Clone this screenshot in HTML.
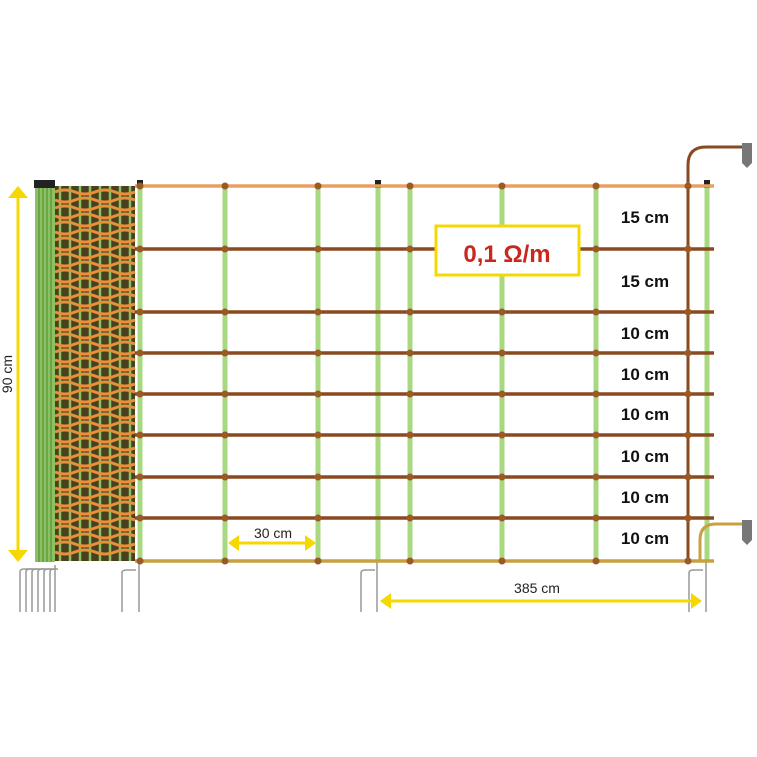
<!DOCTYPE html><html><head><style>body{margin:0;background:#fff}svg{display:block}</style></head><body>
<svg width="757" height="757" viewBox="0 0 757 757" xmlns="http://www.w3.org/2000/svg" font-family="Liberation Sans, sans-serif">
<rect width="757" height="757" fill="#fff"/>
<defs>
<g id="kn"><circle cx="140" cy="0" r="3.5"/><circle cx="225" cy="0" r="3.5"/><circle cx="318" cy="0" r="3.5"/><circle cx="410" cy="0" r="3.5"/><circle cx="502" cy="0" r="3.5"/><circle cx="596" cy="0" r="3.5"/><circle cx="688" cy="0" r="3.5"/></g>
</defs>
<!-- roll -->
<rect x="55" y="186" width="80" height="375" fill="#4a4020"/>
<g stroke="#8cc060" stroke-width="2.5">
<line x1="60" y1="186" x2="60" y2="561"/><line x1="70" y1="186" x2="70" y2="561"/><line x1="80" y1="186" x2="80" y2="561"/><line x1="90" y1="186" x2="90" y2="561"/><line x1="100" y1="186" x2="100" y2="561"/><line x1="110" y1="186" x2="110" y2="561"/><line x1="120" y1="186" x2="120" y2="561"/><line x1="130" y1="186" x2="130" y2="561"/>
</g>
<g stroke="#e8903a" stroke-width="3" fill="none">
<path d="M55 192 q10 -4 20 0 t20 0 t20 0 t20 0 M55 200 q10 4 20 0 t20 0 t20 0 t20 0 M55 208 q10 -4 20 0 t20 0 t20 0 t20 0 M55 216 q10 4 20 0 t20 0 t20 0 t20 0 M55 224 q10 -4 20 0 t20 0 t20 0 t20 0 M55 232 q10 4 20 0 t20 0 t20 0 t20 0 M55 240 q10 -4 20 0 t20 0 t20 0 t20 0 M55 248 q10 4 20 0 t20 0 t20 0 t20 0 M55 256 q10 -4 20 0 t20 0 t20 0 t20 0 M55 264 q10 4 20 0 t20 0 t20 0 t20 0 M55 272 q10 -4 20 0 t20 0 t20 0 t20 0 M55 280 q10 4 20 0 t20 0 t20 0 t20 0 M55 288 q10 -4 20 0 t20 0 t20 0 t20 0 M55 296 q10 4 20 0 t20 0 t20 0 t20 0 M55 304 q10 -4 20 0 t20 0 t20 0 t20 0 M55 312 q10 4 20 0 t20 0 t20 0 t20 0 M55 320 q10 -4 20 0 t20 0 t20 0 t20 0 M55 328 q10 4 20 0 t20 0 t20 0 t20 0 M55 336 q10 -4 20 0 t20 0 t20 0 t20 0 M55 344 q10 4 20 0 t20 0 t20 0 t20 0 M55 352 q10 -4 20 0 t20 0 t20 0 t20 0 M55 360 q10 4 20 0 t20 0 t20 0 t20 0 M55 368 q10 -4 20 0 t20 0 t20 0 t20 0 M55 376 q10 4 20 0 t20 0 t20 0 t20 0 M55 384 q10 -4 20 0 t20 0 t20 0 t20 0 M55 392 q10 4 20 0 t20 0 t20 0 t20 0 M55 400 q10 -4 20 0 t20 0 t20 0 t20 0 M55 408 q10 4 20 0 t20 0 t20 0 t20 0 M55 416 q10 -4 20 0 t20 0 t20 0 t20 0 M55 424 q10 4 20 0 t20 0 t20 0 t20 0 M55 432 q10 -4 20 0 t20 0 t20 0 t20 0 M55 440 q10 4 20 0 t20 0 t20 0 t20 0 M55 448 q10 -4 20 0 t20 0 t20 0 t20 0 M55 456 q10 4 20 0 t20 0 t20 0 t20 0 M55 464 q10 -4 20 0 t20 0 t20 0 t20 0 M55 472 q10 4 20 0 t20 0 t20 0 t20 0 M55 480 q10 -4 20 0 t20 0 t20 0 t20 0 M55 488 q10 4 20 0 t20 0 t20 0 t20 0 M55 496 q10 -4 20 0 t20 0 t20 0 t20 0 M55 504 q10 4 20 0 t20 0 t20 0 t20 0 M55 512 q10 -4 20 0 t20 0 t20 0 t20 0 M55 520 q10 4 20 0 t20 0 t20 0 t20 0 M55 528 q10 -4 20 0 t20 0 t20 0 t20 0 M55 536 q10 4 20 0 t20 0 t20 0 t20 0 M55 544 q10 -4 20 0 t20 0 t20 0 t20 0 M55 552 q10 4 20 0 t20 0 t20 0 t20 0"/>
</g>
<!-- left posts bundle -->
<rect x="35" y="186" width="20" height="376" fill="#8cc060"/>
<g stroke="#4c8a30" stroke-width="1"><line x1="39" y1="186" x2="39" y2="562"/><line x1="43" y1="186" x2="43" y2="562"/><line x1="47" y1="186" x2="47" y2="562"/><line x1="51" y1="186" x2="51" y2="562"/></g>
<rect x="34" y="180" width="21" height="8" fill="#222"/>
<g stroke="#999" stroke-width="1.5" fill="none">
<path d="M20 612 V572 q0 -3 4 -3 h8"/><path d="M26 612 V572 q0 -3 4 -3 h8"/><path d="M32 612 V572 q0 -3 4 -3 h8"/><path d="M38 612 V572 q0 -3 4 -3 h8"/><path d="M44 612 V572 q0 -3 4 -3 h8"/><path d="M50 612 V572 q0 -3 4 -3 h4"/><path d="M55 612 V565"/>
<path d="M122 612 V573 q0 -3 4 -3 h10 M139 612 V562"/>
<path d="M361 612 V573 q0 -3 4 -3 h10 M377 612 V562"/>
<path d="M689 612 V573 q0 -3 4 -3 h10 M706 612 V562"/>
</g>
<!-- vertical struts -->
<g stroke="#a8d880" stroke-width="5">
<line x1="140" y1="186" x2="140" y2="562"/><line x1="225" y1="186" x2="225" y2="562"/><line x1="318" y1="186" x2="318" y2="562"/><line x1="378" y1="186" x2="378" y2="562"/><line x1="410" y1="186" x2="410" y2="562"/><line x1="502" y1="186" x2="502" y2="562"/><line x1="596" y1="186" x2="596" y2="562"/><line x1="707" y1="186" x2="707" y2="562"/>
</g>
<rect x="137" y="180" width="6" height="8" fill="#222"/><rect x="375" y="180" width="6" height="8" fill="#222"/><rect x="704" y="180" width="6" height="8" fill="#222"/>
<!-- horizontal wires -->
<g stroke-width="3.5">
<line x1="135" y1="186" x2="714" y2="186" stroke="#e8a060"/>
<g stroke="#8a4a20">
<line x1="135" y1="249" x2="714" y2="249"/><line x1="135" y1="312" x2="714" y2="312"/><line x1="135" y1="353" x2="714" y2="353"/><line x1="135" y1="394" x2="714" y2="394"/><line x1="135" y1="435" x2="714" y2="435"/><line x1="135" y1="477" x2="714" y2="477"/><line x1="135" y1="518" x2="714" y2="518"/>
</g>
<line x1="135" y1="561" x2="714" y2="561" stroke="#c8a040"/>
</g>
<!-- vertical brown wire with hook -->
<path d="M688 561 V165 q0 -18 18 -18 H750" stroke="#8a4a20" stroke-width="3" fill="none"/>
<path d="M700 561 V540 q0 -16 16 -16 H748" stroke="#c8a040" stroke-width="3" fill="none"/>
<path d="M742 143 h10 v20 l-5 5 l-5 -5z" fill="#777"/><path d="M742 520 h10 v20 l-5 5 l-5 -5z" fill="#777"/>
<!-- knots -->
<g fill="#9a5a28">
<use href="#kn" y="186"/><use href="#kn" y="249"/><use href="#kn" y="312"/><use href="#kn" y="353"/><use href="#kn" y="394"/><use href="#kn" y="435"/><use href="#kn" y="477"/><use href="#kn" y="518"/><use href="#kn" y="561"/>
</g>
<!-- label box -->
<rect x="436" y="226" width="143" height="49" fill="#fff" stroke="#f5d800" stroke-width="3"/>
<text x="507" y="262" text-anchor="middle" font-size="24" font-weight="bold" fill="#c8281e">0,1 Ω/m</text>
<!-- cm labels -->
<g font-size="17" font-weight="bold" fill="#111" text-anchor="middle">
<text x="645" y="223">15 cm</text><text x="645" y="287">15 cm</text><text x="645" y="339">10 cm</text><text x="645" y="380">10 cm</text><text x="645" y="420">10 cm</text><text x="645" y="462">10 cm</text><text x="645" y="503">10 cm</text><text x="645" y="544">10 cm</text>
</g>
<!-- dimension arrows -->
<g fill="#f5d800" stroke="#f5d800">
<line x1="18" y1="196" x2="18" y2="552" stroke-width="3"/>
<path d="M8 198 L18 186 L28 198z" stroke="none"/><path d="M8 550 L18 562 L28 550z" stroke="none"/>
<line x1="236" y1="543" x2="308" y2="543" stroke-width="3"/>
<path d="M239 535 L228 543 L239 551z" stroke="none"/><path d="M305 535 L316 543 L305 551z" stroke="none"/>
<line x1="388" y1="601" x2="694" y2="601" stroke-width="3"/>
<path d="M391 593 L380 601 L391 609z" stroke="none"/><path d="M691 593 L702 601 L691 609z" stroke="none"/>
</g>
<text x="273" y="538" text-anchor="middle" font-size="14" fill="#222">30 cm</text>
<text x="537" y="593" text-anchor="middle" font-size="14" fill="#222">385 cm</text>
<text transform="translate(12 374) rotate(-90)" text-anchor="middle" font-size="14" fill="#222">90 cm</text>
</svg>
</body></html>
